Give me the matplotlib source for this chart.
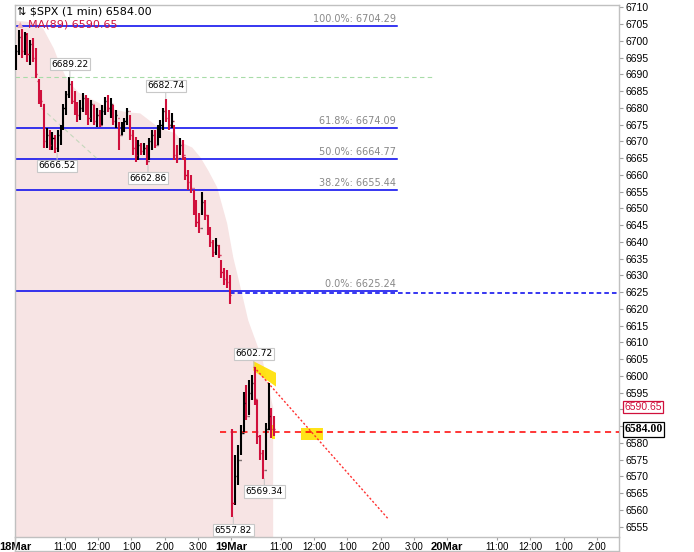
import numpy as np
import matplotlib
matplotlib.use("Agg")
import matplotlib.pyplot as plt
from matplotlib.patches import Polygon
from matplotlib.lines import Line2D

# ---------------- data ----------------
bar_interval = 5  # minutes per drawn bar (trading minutes since 18Mar 9:30)
opens = [6692, 6697, 6701, 6697, 6702, 6696, 6699, 6695, 6688, 6684,
         6681, 6670, 6672, 6669, 6671, 6668, 6672, 6674, 6680, 6684,
         6687, 6682, 6680, 6678, 6680, 6683, 6679, 6677, 6681, 6676,
         6678, 6675, 6679, 6682, 6680, 6681, 6676, 6677, 6672, 6674,
         6676, 6679, 6672, 6668, 6666, 6669, 6667, 6668, 6664, 6670,
         6672, 6669, 6674, 6675, 6679, 6677, 6675, 6676, 6666, 6665,
         6669, 6666, 6660, 6658, 6656, 6650, 6646, 6644, 6652, 6648,
         6644, 6640, 6637, 6639, 6636, 6631, 6629, 6628,
         6583, 6562, 6570, 6575, 6583, 6592, 6588, 6595, 6598, 6593,
         6582, 6577, 6572, 6584, 6588, 6585]
highs = [6698.8, 6703.2, 6703.5, 6702.6, 6702.3, 6700.2, 6700.8, 6697.9, 6688.5, 6685.3,
         6681.0, 6674.0, 6673.4, 6672.8, 6672.0, 6673.4, 6675.0, 6681.0, 6685.0, 6689.22,
         6688.0, 6685.0, 6681.7, 6682.3, 6684.4, 6683.8, 6682.9, 6682.3, 6680.8, 6679.9,
         6679.3, 6680.8, 6683.2, 6683.8, 6682.9, 6680.8, 6679.3, 6675.8, 6675.8, 6677.0,
         6679.9, 6677.9, 6673.4, 6671.3, 6670.4, 6669.5, 6669.5, 6668.9, 6671.0, 6673.4,
         6673.4, 6674.9, 6676.4, 6679.9, 6682.74, 6679.3, 6678.5, 6674.9, 6668.9, 6671.0,
         6670.4, 6665.3, 6661.4, 6660.0, 6655.5, 6652.5, 6648.6, 6654.9, 6652.5, 6648.0,
         6644.4, 6640.6, 6641.2, 6639.1, 6634.6, 6632.2, 6631.6, 6630.1,
         6584.0, 6576.3, 6579.3, 6585.3, 6595.2, 6597.3, 6598.8, 6600.3, 6602.72, 6592.8,
         6582.2, 6577.8, 6585.9, 6597.9, 6590.4, 6588.0]
lows = [6691.3, 6695.8, 6694.9, 6695.8, 6693.7, 6692.8, 6693.7, 6688.9, 6681.0, 6680.2,
        6668.0, 6668.0, 6667.4, 6667.4, 6666.52, 6666.8, 6669.0, 6673.4, 6678.0, 6683.0,
        6681.0, 6678.0, 6675.8, 6676.4, 6678.8, 6677.9, 6674.9, 6675.8, 6674.9, 6674.3,
        6674.3, 6674.9, 6677.9, 6678.8, 6676.9, 6674.9, 6674.0, 6667.4, 6671.9, 6672.8,
        6674.9, 6670.4, 6665.9, 6663.8, 6664.4, 6665.9, 6665.9, 6662.86, 6664.4, 6667.4,
        6668.0, 6668.9, 6671.0, 6673.4, 6675.8, 6673.4, 6674.0, 6664.4, 6663.5, 6665.9,
        6664.4, 6658.5, 6655.5, 6654.6, 6648.0, 6644.4, 6642.6, 6648.0, 6646.5, 6642.0,
        6638.5, 6635.5, 6636.1, 6635.2, 6629.2, 6627.1, 6626.3, 6621.5,
        6557.82, 6561.4, 6567.3, 6576.4, 6583.3, 6586.8, 6588.3, 6592.8, 6591.3, 6579.8,
        6574.8, 6569.34, 6574.8, 6583.8, 6581.6, 6582.0]
closes = [6697, 6701, 6697, 6702, 6696, 6699, 6695, 6690, 6684, 6682,
          6670, 6672, 6669, 6671, 6668, 6672, 6674, 6680, 6684, 6687,
          6682, 6680, 6678, 6680, 6683, 6679, 6677, 6681, 6676, 6678,
          6675, 6679, 6682, 6680, 6681, 6676, 6678, 6672, 6674, 6676,
          6679, 6672, 6668, 6666, 6669, 6667, 6668, 6664, 6670, 6672,
          6669, 6674, 6675, 6679, 6677, 6675, 6676, 6666, 6665, 6669,
          6666, 6660, 6658, 6656, 6650, 6646, 6644, 6652, 6648, 6644,
          6640, 6637, 6639, 6636, 6631, 6629, 6628, 6624,
          6562, 6570, 6575, 6583, 6592, 6588, 6595, 6598, 6593, 6582,
          6577, 6572, 6584, 6588, 6584, 6584]

ma_minutes = [0, 36, 50, 69, 81, 94, 114, 135, 171, 202, 225, 258, 289, 303,
              319, 334, 348, 364, 382, 393, 406, 420, 433, 446, 456, 465]
ma_values = [6706.2, 6705.6, 6703.8, 6697.9, 6692.8, 6688.3, 6684.7, 6682.9, 6679.9,
             6678.8, 6678.5, 6674.3, 6672.5, 6669.5, 6668.3, 6665.3, 6661.4, 6656.4,
             6645.6, 6635.5, 6626.6, 6616.7, 6610.8, 6604.8, 6597.3, 6590.65]

fib_labels = ["100.0%", "61.8%", "50.0%", "38.2%", "0.0%"]
fib_values = [6704.29, 6674.09, 6664.77, 6655.44, 6625.24]
fib_end_minute = 689

swing_values = [6689.22, 6682.74, 6666.52, 6662.86, 6602.72, 6569.34, 6557.82]
swing_minutes = [99, 272, 76, 240, 431, 450, 394]
swing_side = ["high", "high", "low", "low", "high", "low", "low"]

last_price = 6584.00
last_line_price = 6583.3
last_line_start = 370
ma_last = 6590.65
zero_ext_price = 6624.6
zero_ext_start = 388
green_level = 6689.22
green_end = 758
faint_trend_minutes = [48, 147]
faint_trend_prices = [6679.9, 6665.0]
trend_minutes = [431, 673]
trend_prices = [6602.72, 6557.4]
hl_band = [(430, 6604.4), (471, 6600.9), (471, 6596.8), (430, 6601.6)]
hl_box = [(516, 6584.4), (555, 6584.4), (555, 6580.9), (516, 6580.9)]
hl_small = [(463, 6585.3), (470, 6585.3), (470, 6581.3), (463, 6581.3)]

day_labels = ["18Mar", "19Mar", "20Mar"]
hour_labels = ["11:00", "12:00", "1:00", "2:00", "3:00"]
hour_offsets = [90, 150, 210, 270, 330]
session_len = 390
hidden_ticks = [6585, 6590]  # covered by the value tags on the price axis

# ---------------- figure ----------------
W, H = 694, 552
fig = plt.figure(figsize=(W / 100, H / 100), dpi=100)
ax = fig.add_axes([15 / W, 1 - 537 / H, (619 - 15) / W, (537 - 5) / H])
ax.set_xlim(0, 1090)
ax.set_ylim(6551.9, 6710.7)

GRAY = "#c0c0c0"
BLUE = "#0000ee"
RED = "#d0103c"

# MA(89) area
ylo = ax.get_ylim()[0]
ax.fill_between(ma_minutes, ma_values, ylo, color="#f7e4e4", lw=0, zorder=1)

# fibonacci lines
for lab, v in zip(fib_labels, fib_values):
    ax.plot([0, fib_end_minute], [v, v], color=BLUE, lw=1.1, zorder=2)
    ax.text(fib_end_minute - 1, v + 0.6, f"{lab}: {v:.2f}", ha="right", va="bottom",
            fontsize=7, color="#888888", family="DejaVu Sans", zorder=3)
ax.plot([zero_ext_start, 1090], [zero_ext_price, zero_ext_price], color=BLUE,
        lw=1.1, ls=(0, (3, 2)), zorder=2)

# faint lines
ax.plot([0, green_end], [green_level, green_level], color="#a8dca8", lw=0.8,
        ls=(0, (4, 3)), zorder=2)
ax.plot(faint_trend_minutes, faint_trend_prices, color="#c4d8bc", lw=0.8,
        ls=(0, (4, 3)), zorder=2)

# highlights
for poly in (hl_band, hl_box, hl_small):
    ax.add_patch(Polygon(poly, closed=True, fc="#ffe000", ec="none", alpha=0.9, zorder=2.5))

# last price / trend lines
ax.plot([last_line_start, 1090], [last_line_price, last_line_price], color="#ff0000",
        lw=1.1, ls=(0, (4, 3)), zorder=4)
ax.plot(trend_minutes, trend_prices, color="#ff3030", lw=1.0, ls=(0, (1.5, 1.5)), zorder=4)

# OHLC bars
o = np.array(opens); h = np.array(highs); l = np.array(lows); c = np.array(closes)
t = np.arange(len(o)) * bar_interval + bar_interval / 2
cols = np.where(c >= o, "#000000", RED)
ax.vlines(t, l, h, colors=cols, lw=1.5, zorder=5)
ax.hlines(o, t - 2.0, t, colors=cols, lw=1.0, zorder=5)
ax.hlines(c, t, t + 2.0, colors=cols, lw=1.0, zorder=5)

# swing labels
for m, v, side in zip(swing_minutes, swing_values, swing_side):
    dy = 6 if side == "high" else -6
    ax.annotate(f"{v:.2f}", xy=(m, v), xytext=(0, dy), textcoords="offset points",
                ha="center", va="bottom" if side == "high" else "top", fontsize=6.5,
                family="DejaVu Sans", color="black", zorder=6,
                bbox=dict(boxstyle="square,pad=0.18", fc="white", ec="#c8c8c8", lw=0.8),
                arrowprops=dict(arrowstyle="-", color="#c8c8c8", lw=0.8, shrinkA=0, shrinkB=0))

# title
ax.text(0.004, 0.987, "\u21c5 $SPX (1 min) 6584.00", transform=ax.transAxes, ha="left",
        va="center", fontsize=8, color="black", family="DejaVu Sans", zorder=7)
ax.text(0.003, 0.963, "\u25b2", transform=ax.transAxes, ha="left", va="center",
        fontsize=6, color="#f0b0b8", zorder=7)
ax.text(0.022, 0.963, f"MA(89) {ma_last:.2f}", transform=ax.transAxes, ha="left",
        va="center", fontsize=8, color="#d0103c", family="DejaVu Sans", zorder=7)

# axes styling
for s in ax.spines.values():
    s.set_color(GRAY)
    s.set_linewidth(1)
ax.yaxis.tick_right()
yt = np.arange(6555, 6711, 5)
ax.set_yticks(yt)
ax.set_yticklabels(["" if v in hidden_ticks else str(v) for v in yt])
ax.tick_params(axis="y", which="both", right=True, left=False, length=3, width=0.8,
               color="#a0a0a0", labelsize=7.5, pad=1.5, labelcolor="black")
for lbl in ax.get_yticklabels():
    lbl.set_family("Liberation Sans")

xt, xl = [], []
for d, dl in enumerate(day_labels):
    xt.append(d * session_len); xl.append(dl)
    for off, hl in zip(hour_offsets, hour_labels):
        pos = d * session_len + off
        if pos < 1090:
            xt.append(pos); xl.append(hl)
ax.set_xticks(xt)
ax.set_xticklabels(xl)
ax.tick_params(axis="x", length=2, width=0.8, color="#a0a0a0", labelsize=7, pad=1.5)
for lbl in ax.get_xticklabels():
    lbl.set_family("Liberation Sans")
    if lbl.get_text() in day_labels:
        lbl.set_fontweight("bold")
        lbl.set_fontsize(8)

# right-side value tags
ax.annotate(f"{ma_last:.2f}", xy=(1.0, ma_last), xycoords=("axes fraction", "data"),
            xytext=(4, 0), textcoords="offset points", ha="left", va="center",
            fontsize=7.5, color="#d0103c", family="Liberation Sans", annotation_clip=False,
            bbox=dict(boxstyle="square,pad=0.12", fc="white", ec="#d0103c", lw=0.9), zorder=8)
ax.annotate(f"{last_price:.2f}", xy=(1.0, last_price), xycoords=("axes fraction", "data"),
            xytext=(4, 0), textcoords="offset points", ha="left", va="center",
            fontsize=8.5, color="black", fontweight="bold", family="Liberation Serif",
            annotation_clip=False,
            bbox=dict(boxstyle="square,pad=0.1", fc="white", ec="black", lw=0.9), zorder=8)

# date-axis frame
fig.add_artist(Line2D([15 / W, 619 / W], [1 - 551 / H, 1 - 551 / H], color=GRAY, lw=1))
fig.add_artist(Line2D([619 / W, 619 / W], [1 - 551 / H, 1 - 537 / H], color=GRAY, lw=1))
fig.add_artist(Line2D([15 / W, 15 / W], [1 - 551 / H, 1 - 537 / H], color=GRAY, lw=1))

fig.savefig("out.png", dpi=100, facecolor="white")
